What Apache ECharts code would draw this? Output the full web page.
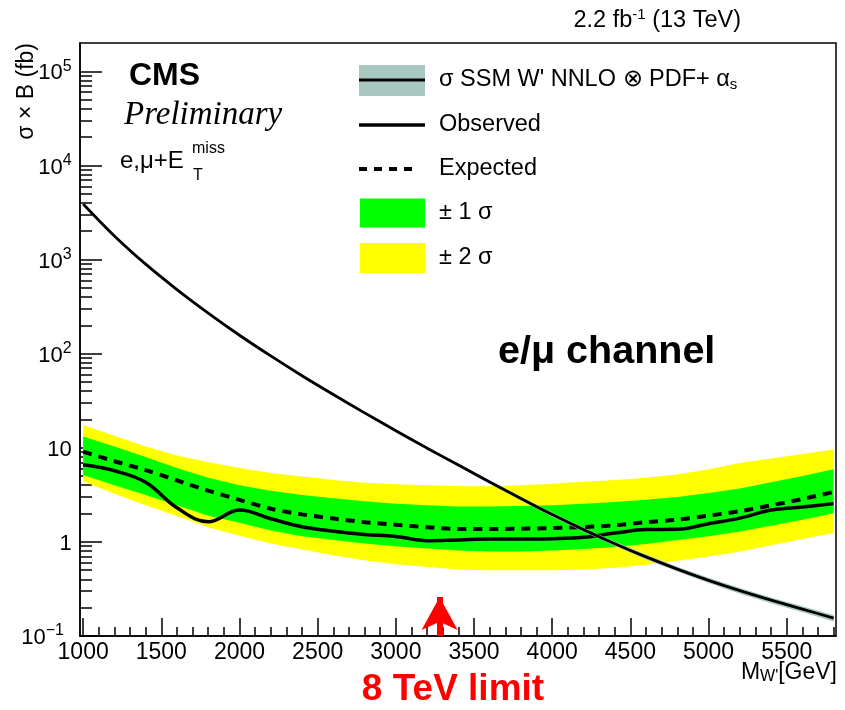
<!DOCTYPE html>
<html>
<head>
<meta charset="utf-8">
<script src="https://cdn.jsdelivr.net/npm/echarts@6.0.0/dist/echarts.min.js"></script>
<style>
  html, body { margin: 0; padding: 0; background: #ffffff; }
  #chart { width: 845px; height: 710px; }
</style>
</head>
<body>
<div id="chart"></div>
<script>
// W' mass points (GeV)
const massGeV = [1000, 1200, 1400, 1600, 1800, 2000, 2200, 2400, 2600, 2800,
                 3000, 3200, 3400, 3600, 3800, 4000, 4200, 4400, 4600, 4800,
                 5000, 5200, 5400, 5600, 5800];

// 95% CL limits on sigma x B (fb)
const observed = [6.6, 5.7, 4.3, 2.3, 1.64, 2.18, 1.76, 1.45, 1.30, 1.20,
                  1.14, 1.03, 1.05, 1.07, 1.07, 1.08, 1.12, 1.24, 1.35, 1.36,
                  1.56, 1.79, 2.18, 2.35, 2.55];
const expected = [9.1, 7.2, 5.8, 4.5, 3.5, 2.8, 2.25, 1.96, 1.77, 1.62,
                  1.52, 1.43, 1.37, 1.37, 1.38, 1.40, 1.44, 1.50, 1.62, 1.72,
                  1.90, 2.12, 2.45, 2.85, 3.4];
const plus1Sigma = [13.2, 10.3, 8.0, 6.1, 4.8, 4.0, 3.5, 3.15, 2.9, 2.7,
                    2.55, 2.45, 2.38, 2.38, 2.40, 2.45, 2.55, 2.65, 2.8, 3.0,
                    3.3, 3.7, 4.3, 5.0, 5.9];
const minus1Sigma = [5.15, 4.0, 3.15, 2.45, 1.9, 1.6, 1.32, 1.15, 1.05, 0.96,
                     0.90, 0.85, 0.81, 0.79, 0.79, 0.81, 0.84, 0.88, 0.95, 1.05,
                     1.15, 1.29, 1.48, 1.72, 2.02];
const plus2Sigma = [17.5, 13.4, 10.3, 8.3, 7.0, 6.1, 5.4, 4.95, 4.55, 4.25,
                    4.1, 4.0, 3.9, 3.9, 4.0, 4.15, 4.35, 4.55, 4.8, 5.2,
                    5.9, 6.9, 7.7, 8.6, 9.6];
const minus2Sigma = [4.4, 3.25, 2.45, 1.88, 1.43, 1.16, 0.96, 0.83, 0.72, 0.64,
                     0.58, 0.54, 0.51, 0.50, 0.50, 0.50, 0.51, 0.53, 0.57, 0.63,
                     0.70, 0.79, 0.92, 1.07, 1.24];

// SSM W' NNLO cross section x BR (fb) and its PDF + alpha_s uncertainty (%)
const theoryXsec = [3900, 1782, 893, 480, 270, 157, 94.6, 58.3, 36.8, 23.5,
                    15.2, 9.91, 6.55, 4.33, 2.89, 1.95, 1.35, 0.957, 0.693, 0.514,
                    0.390, 0.303, 0.240, 0.193, 0.155];
const theoryUncPct = [2, 2, 2, 2, 2, 2.5, 2.5, 3, 3, 3.5,
                      3.5, 4, 4, 4.5, 4.5, 5, 5, 5.5, 6, 6,
                      6.5, 7, 7, 7.5, 8];

// Previous (8 TeV) mass limit, GeV
const limit8TeV = 3280;

// Axis tick labels
const xTickLabels = [1000, 1500, 2000, 2500, 3000, 3500, 4000, 4500, 5000, 5500];
const yTickLabels = [0.1, 1, 10, 100, 1000, 10000, 100000];

const xMin = 980, xMax = 5815;
const yMin = 0.1, yMax = 2e5;

// minor ticks: every 100 GeV, and 2..9 within each decade
const xMinorTicks = [];
for (let m = 1100; m <= 5800; m += 100) if (m % 500 !== 0) xMinorTicks.push(m);
const yMinorTicks = [];
for (let e = -1; e <= 4; e++) for (let k = 2; k <= 9; k++) yMinorTicks.push(+(k * Math.pow(10, e)).toPrecision(3));

const FONT = '"Liberation Sans", Arial, Helvetica, sans-serif';
const SERIF = '"Liberation Serif", "Times New Roman", serif';

const pairs = (ys) => massGeV.map((m, i) => [m, ys[i]]);
const theoryLo = theoryXsec.map((v, i) => v * (1 - theoryUncPct[i] / 100));
const theoryHi = theoryXsec.map((v, i) => v * (1 + theoryUncPct[i] / 100));

// filled band between two curves, drawn as a single polygon
function band(name, lo, hi, color, z) {
  return {
    name: name,
    type: 'custom',
    coordinateSystem: 'cartesian2d',
    clip: true,
    z: z,
    silent: true,
    data: massGeV.map((m, i) => [m, lo[i], hi[i]]),
    encode: { x: 0, y: [1, 2] },
    renderItem: function (params, api) {
      if (params.dataIndex !== 0) return null;
      const pts = [];
      for (let i = 0; i < massGeV.length; i++) pts.push(api.coord([massGeV[i], hi[i]]));
      for (let i = massGeV.length - 1; i >= 0; i--) pts.push(api.coord([massGeV[i], lo[i]]));
      return { type: 'polygon', shape: { points: pts }, style: { fill: color, stroke: null } };
    }
  };
}

function yLabel(v) {
  const e = Math.round(Math.log10(v));
  if (e === 0) return '{b|1}{z| }';
  if (e === 1) return '{b|10}{z| }';
  if (e < 0) return '{b|10}{s|\u2212' + Math.abs(e) + '}{q| }';
  return '{b|10}{s|' + e + '}{z| }';
}

const chart = echarts.init(document.getElementById('chart'), null, { renderer: 'canvas' });

const legendX = 359, legendW = 66, legendTextX = 439;
const rowY = [80, 125, 169, 213, 258];

const option = {
  animation: false,
  backgroundColor: '#ffffff',
  grid: {
    left: 80, right: 9, top: 43, bottom: 74,
    containLabel: false,
    show: true, borderColor: '#000', borderWidth: 1.5, backgroundColor: 'transparent'
  },
  xAxis: [
    {
      type: 'value', min: xMin, max: xMax, position: 'bottom',
      axisLine: { show: true, onZero: false, lineStyle: { color: '#000', width: 1.5 } },
      splitLine: { show: false },
      axisTick: { show: true, inside: true, length: 18, customValues: xTickLabels,
                  lineStyle: { color: '#000', width: 1.5 } },
      axisLabel: { show: true, customValues: xTickLabels, color: '#000', fontSize: 23,
                   fontFamily: FONT, margin: 5, formatter: (v) => String(v) }
    },
    {
      type: 'value', min: xMin, max: xMax, position: 'bottom',
      axisLine: { show: false, onZero: false },
      splitLine: { show: false },
      axisLabel: { show: false },
      axisTick: { show: true, inside: true, length: 9, customValues: xMinorTicks,
                  lineStyle: { color: '#000', width: 1.5 } }
    }
  ],
  yAxis: [
    {
      type: 'log', logBase: 10, min: yMin, max: yMax, position: 'left',
      axisLine: { show: true, onZero: false, lineStyle: { color: '#000', width: 1.5 } },
      splitLine: { show: false },
      axisTick: { show: true, inside: true, length: 22, customValues: yTickLabels,
                  lineStyle: { color: '#000', width: 1.5 } },
      axisLabel: {
        show: true, customValues: yTickLabels, margin: 8, formatter: yLabel,
        rich: {
          b: { fontSize: 22, fontFamily: FONT, color: '#000', lineHeight: 19, verticalAlign: 'bottom' },
          s: { fontSize: 16, fontFamily: FONT, color: '#000', lineHeight: 22, verticalAlign: 'top' },
          z: { fontSize: 1, fontFamily: FONT, lineHeight: 26, verticalAlign: 'middle' },
          q: { fontSize: 1, fontFamily: FONT, lineHeight: 26, width: 8, verticalAlign: 'middle' }
        }
      }
    },
    {
      type: 'log', logBase: 10, min: yMin, max: yMax, position: 'left',
      axisLine: { show: false, onZero: false },
      splitLine: { show: false },
      axisLabel: { show: false },
      axisTick: { show: true, inside: true, length: 12, customValues: yMinorTicks,
                  lineStyle: { color: '#000', width: 1.5 } }
    }
  ],
  series: [
    band('\u00b1 2 \u03c3', minus2Sigma, plus2Sigma, '#ffff00', 1),
    band('\u00b1 1 \u03c3', minus1Sigma, plus1Sigma, '#00ff00', 2),
    {
      name: 'Expected', type: 'line', z: 3, symbol: 'none', smooth: 0.3,
      data: pairs(expected),
      lineStyle: { color: '#000', width: 4, type: [9, 7] }
    },
    {
      name: 'Observed', type: 'line', z: 4, symbol: 'none', smooth: 0.4,
      data: pairs(observed),
      lineStyle: { color: '#000', width: 3.5 },
      markLine: {
        silent: true, animation: false,
        symbol: ['none', 'arrow'], symbolSize: [27, 33],
        label: { show: false },
        lineStyle: { color: '#ff0000', width: 6, type: 'solid' },
        emphasis: { disabled: true },
        data: [[{ coord: [limit8TeV, yMin] }, { coord: [limit8TeV, 0.26] }]]
      }
    },
    band('\u03c3 SSM W\' NNLO', theoryLo, theoryHi, '#a9c8c1', 5),
    {
      name: 'theory', type: 'line', z: 6, symbol: 'none', smooth: 0.3,
      data: pairs(theoryXsec),
      lineStyle: { color: '#000', width: 2.8 }
    }
  ],
  graphic: [
    // axis titles
    { type: 'text', x: 27, y: 43, rotation: Math.PI / 2, z: 10,
      style: { text: '\u03c3 \u00d7 B (fb)', font: '23px ' + FONT, fill: '#000', align: 'right', verticalAlign: 'middle' } },
    { type: 'text', x: 837, y: 673, z: 10,
      style: { text: 'M{sub|W\'}[GeV]', font: '23px ' + FONT, fill: '#000', align: 'right', verticalAlign: 'middle',
               rich: { sub: { font: '16px ' + FONT, fill: '#000', verticalAlign: 'bottom', lineHeight: 14 } } } },
    // luminosity / energy
    { type: 'text', x: 741, y: 21, z: 10,
      style: { text: '2.2 fb{sup|-1} (13 TeV)', font: '23.5px ' + FONT, fill: '#000', align: 'right', verticalAlign: 'middle',
               rich: { sup: { font: '15px ' + FONT, fill: '#000', verticalAlign: 'top', lineHeight: 28 } } } },
    // CMS labels
    { type: 'text', x: 129, y: 76, z: 10,
      style: { text: 'CMS', font: 'bold 32px ' + FONT, fill: '#000', align: 'left', verticalAlign: 'middle' } },
    { type: 'text', x: 124, y: 115, z: 10,
      style: { text: 'Preliminary', font: 'italic 33px ' + SERIF, fill: '#000', align: 'left', verticalAlign: 'middle' } },
    { type: 'text', x: 120, y: 161, z: 10,
      style: { text: 'e,\u03bc+E', font: '24px ' + FONT, fill: '#000', align: 'left', verticalAlign: 'middle' } },
    { type: 'text', x: 192, y: 149, z: 10,
      style: { text: 'miss', font: '16px ' + FONT, fill: '#000', align: 'left', verticalAlign: 'middle' } },
    { type: 'text', x: 193, y: 176, z: 10,
      style: { text: 'T', font: '16px ' + FONT, fill: '#000', align: 'left', verticalAlign: 'middle' } },
    // channel label
    { type: 'text', x: 498, y: 352, z: 10,
      style: { text: 'e/\u03bc channel', font: 'bold 39.5px ' + FONT, fill: '#000', align: 'left', verticalAlign: 'middle' } },
    // previous limit label
    { type: 'text', x: 453, y: 690, z: 10,
      style: { text: '8 TeV limit', font: 'bold 37px ' + FONT, fill: '#ff0000', align: 'center', verticalAlign: 'middle' } },

    // legend
    { type: 'rect', z: 10, shape: { x: legendX, y: rowY[0] - 15, width: legendW, height: 31 }, style: { fill: '#a9c8c1' } },
    { type: 'line', z: 11, shape: { x1: legendX, y1: rowY[0], x2: legendX + legendW, y2: rowY[0] }, style: { stroke: '#000', lineWidth: 2.8 } },
    { type: 'text', x: legendTextX, y: rowY[0], z: 10,
      style: { text: '\u03c3 SSM W\' NNLO \u2297 PDF+ \u03b1{sub|s}', font: '23.5px ' + FONT, fill: '#000', align: 'left', verticalAlign: 'middle',
               rich: { sub: { font: '15px ' + FONT, fill: '#000', verticalAlign: 'bottom', lineHeight: 16 } } } },
    { type: 'line', z: 11, shape: { x1: legendX, y1: rowY[1], x2: legendX + legendW, y2: rowY[1] }, style: { stroke: '#000', lineWidth: 3.5 } },
    { type: 'text', x: legendTextX, y: rowY[1], z: 10,
      style: { text: 'Observed', font: '23.5px ' + FONT, fill: '#000', align: 'left', verticalAlign: 'middle' } },
    { type: 'line', z: 11, shape: { x1: legendX, y1: rowY[2], x2: legendX + 60, y2: rowY[2] }, style: { stroke: '#000', lineWidth: 4, lineDash: [8, 7] } },
    { type: 'text', x: legendTextX, y: rowY[2], z: 10,
      style: { text: 'Expected', font: '23.5px ' + FONT, fill: '#000', align: 'left', verticalAlign: 'middle' } },
    { type: 'rect', z: 10, shape: { x: legendX + 1, y: rowY[3] - 14.5, width: legendW - 1, height: 29 }, style: { fill: '#00ff00' } },
    { type: 'text', x: legendTextX, y: rowY[3], z: 10,
      style: { text: '\u00b1 1 \u03c3', font: '23.5px ' + FONT, fill: '#000', align: 'left', verticalAlign: 'middle' } },
    { type: 'rect', z: 10, shape: { x: legendX + 1, y: rowY[4] - 15, width: legendW - 1, height: 30 }, style: { fill: '#ffff00' } },
    { type: 'text', x: legendTextX, y: rowY[4], z: 10,
      style: { text: '\u00b1 2 \u03c3', font: '23.5px ' + FONT, fill: '#000', align: 'left', verticalAlign: 'middle' } }
  ]
};

chart.setOption(option);
</script>
</body>
</html>
